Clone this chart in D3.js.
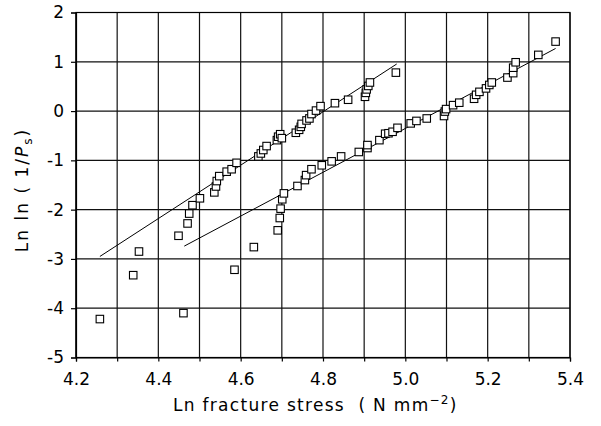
<!DOCTYPE html>
<html>
<head>
<meta charset="utf-8">
<script src="https://cdn.jsdelivr.net/npm/d3@7/dist/d3.min.js"></script>
<style>
  body { margin: 0; background: #fff; }
  text { font-family: "DejaVu Sans", sans-serif; fill: #000; }
</style>
</head>
<body>
<div id="chart"></div>
<script>
// series 1 (left group) : ln fracture stress, ln ln (1/Ps)
var s1x = [4.258, 4.339, 4.353, 4.449, 4.471, 4.475, 4.483, 4.501, 4.536, 4.540, 4.542, 4.548, 4.566, 4.578, 4.590,
           4.643, 4.649, 4.655, 4.663, 4.688, 4.691, 4.696, 4.700, 4.734, 4.742, 4.746, 4.748, 4.760, 4.767, 4.772,
           4.783, 4.794, 4.829, 4.861, 4.902, 4.904, 4.906, 4.910, 4.914, 4.977];
var s1y = [-4.22, -3.33, -2.85, -2.53, -2.28, -2.08, -1.91, -1.77, -1.65, -1.53, -1.42, -1.32, -1.23, -1.18, -1.05,
           -0.92, -0.86, -0.79, -0.71, -0.59, -0.52, -0.47, -0.55, -0.44, -0.38, -0.32, -0.26, -0.19, -0.15, -0.06,
           0.01, 0.10, 0.16, 0.23, 0.29, 0.37, 0.44, 0.51, 0.58, 0.78];
// series 2 (right group)
var s2x = [4.461, 4.585, 4.632, 4.690, 4.695, 4.697, 4.701, 4.705, 4.738, 4.756, 4.759, 4.772, 4.797, 4.821, 4.844,
           4.887, 4.908, 4.908, 4.937, 4.951, 4.959, 4.969, 4.981, 5.013, 5.027, 5.052, 5.094, 5.096, 5.099, 5.116,
           5.131, 5.167, 5.172, 5.180, 5.196, 5.204, 5.210, 5.248, 5.262, 5.262, 5.268, 5.323, 5.365];
var s2y = [-4.10, -3.22, -2.76, -2.42, -2.17, -1.98, -1.79, -1.67, -1.52, -1.40, -1.30, -1.18, -1.10, -1.02, -0.92,
           -0.83, -0.75, -0.69, -0.59, -0.46, -0.45, -0.42, -0.34, -0.25, -0.20, -0.15, -0.10, -0.01, 0.04, 0.12,
           0.17, 0.25, 0.33, 0.39, 0.46, 0.53, 0.58, 0.68, 0.77, 0.88, 0.99, 1.14, 1.41];
// fitted lines (end points)
var fit1x = [4.258, 4.979], fit1y = [-2.95, 0.955];
var fit2x = [4.463, 5.365], fit2y = [-2.74, 1.27];

var xTickLabels = [4.2, 4.4, 4.6, 4.8, 5.0, 5.2, 5.4];
var yTickLabels = [2, 1, 0, -1, -2, -3, -4, -5];

var W = 601, H = 426;
var margin = {top: 12.5, right: 31, bottom: 68.5, left: 76};
var width = W - margin.left - margin.right,
    height = H - margin.top - margin.bottom;

var svg = d3.select("#chart").append("svg")
    .attr("width", W)
    .attr("height", H);
var g = svg.append("g")
    .attr("transform", "translate(" + margin.left + "," + margin.top + ")");

var x = d3.scaleLinear().domain([4.2, 5.4]).range([0, width]);
var y = d3.scaleLinear().domain([-5, 2]).range([height, 0]);

// grid
g.selectAll(".vgrid")
    .data(x.ticks(12))
    .enter().append("line")
    .attr("x1", function(d) { return x(d); })
    .attr("x2", function(d) { return x(d); })
    .attr("y1", 0).attr("y2", height)
    .attr("stroke", "#111").attr("stroke-width", 1.2);
g.selectAll(".hgrid")
    .data(y.ticks(7))
    .enter().append("line")
    .attr("y1", function(d) { return y(d); })
    .attr("y2", function(d) { return y(d); })
    .attr("x1", 0).attr("x2", width)
    .attr("stroke", "#111").attr("stroke-width", 1.2);

// axes
var xAxis = g.append("g")
    .attr("transform", "translate(0," + height + ")")
    .call(d3.axisBottom(x).ticks(12).tickSize(4).tickFormat(function(d) {
        return xTickLabels.some(function(v) { return Math.abs(v - d) < 1e-6; }) ? d3.format(".1f")(d) : "";
    }).tickPadding(11));
var yAxis = g.append("g")
    .call(d3.axisLeft(y).tickValues(yTickLabels).tickSize(5).tickPadding(7)
        .tickFormat(function(d) { return String(d); }));
[xAxis, yAxis].forEach(function(a) {
    a.select(".domain").attr("stroke", "#000").attr("stroke-width", 1.2);
    a.selectAll(".tick line").attr("stroke", "#000").attr("stroke-width", 1.2);
    a.selectAll("text").style("font-size", "17px").attr("fill", "#000");
});

// border
g.append("rect").attr("width", width).attr("height", height)
    .attr("fill", "none").attr("stroke", "#000").attr("stroke-width", 1.2);

// fit lines
var line = d3.line().x(function(d) { return x(d[0]); }).y(function(d) { return y(d[1]); });
[[fit1x, fit1y], [fit2x, fit2y]].forEach(function(f) {
    g.append("path")
        .datum(d3.zip(f[0], f[1]))
        .attr("d", line)
        .attr("fill", "none").attr("stroke", "#000").attr("stroke-width", 1);
});

// points
var sq = 7.5;
[[s1x, s1y], [s2x, s2y]].forEach(function(s) {
    g.selectAll(null)
        .data(d3.zip(s[0], s[1]))
        .enter().append("rect")
        .attr("x", function(d) { return x(d[0]) - sq / 2; })
        .attr("y", function(d) { return y(d[1]) - sq / 2; })
        .attr("width", sq).attr("height", sq)
        .attr("fill", "#fff").attr("stroke", "#000").attr("stroke-width", 1.1);
});

// x title
var xt = svg.append("text")
    .attr("x", 173).attr("y", 411)
    .style("font-size", "17px")
    .style("letter-spacing", "1.3px")
    .attr("xml:space", "preserve");
xt.append("tspan").text("Ln fracture stress  ( N mm");
xt.append("tspan").attr("dy", -7).style("font-size", "12px").text("−2");
xt.append("tspan").attr("dy", 7).text(")");

// y title
var yt = svg.append("text")
    .attr("transform", "translate(28,190) rotate(-90)")
    .attr("text-anchor", "middle")
    .style("font-size", "17px")
    .style("letter-spacing", "2px")
    .attr("xml:space", "preserve");
yt.append("tspan").text("Ln ln ( 1/");
yt.append("tspan").style("font-style", "italic").text("P");
yt.append("tspan").attr("dy", 4).style("font-size", "12px").text("s");
yt.append("tspan").attr("dy", -4).text(")");
</script>
</body>
</html>
